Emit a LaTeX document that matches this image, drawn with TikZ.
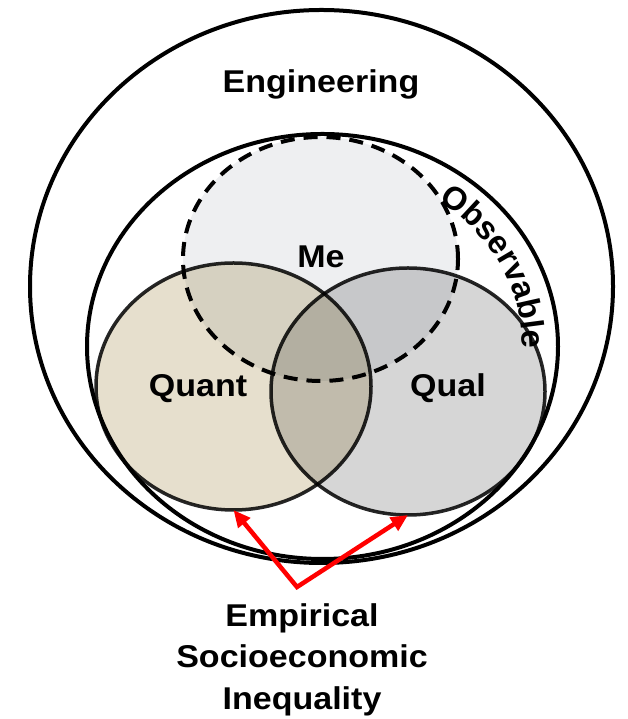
\documentclass[tikz,border=0pt]{standalone}
\usepackage{fontspec}
\setmainfont{Liberation Sans}
\usetikzlibrary{shapes.geometric, arrows.meta, decorations.text}
\definecolor{quantfill}{HTML}{E6DFCD}
\definecolor{qualfill}{HTML}{D6D6D6}
\definecolor{mefill}{HTML}{EEEFF1}
\definecolor{setline}{HTML}{262626}
\newcommand\wlab[1]{\scalebox{1.08}[1]{#1}}
\newcommand\lblfont{\fontsize{31.5}{41.5}\selectfont\bfseries}
\newcommand\obsfont{\fontsize{32.5}{36}\selectfont\bfseries}
\begin{document}
\begin{tikzpicture}[x=1pt,y=1pt,
  ring/.style={ellipse, draw, line width=4pt, inner sep=0pt, outer sep=0pt},
  setring/.style={ellipse, draw=setline, line width=3.5pt, inner sep=0pt, outer sep=0pt, blend mode=multiply},
  dashring/.style={ellipse, draw, fill=mefill, line width=4pt, dash pattern=on 14pt off 9pt, inner sep=0pt, outer sep=0pt, blend mode=multiply},
  lab/.style={font=\lblfont, inner sep=0pt, anchor=base},
  redarr/.style={draw=red, line width=4.5pt, miter limit=10, {Triangle[length=17pt,width=15pt]}-{Triangle[length=17pt,width=15pt]}}]
\useasboundingbox (0,0) rectangle (628,719);
\node[ring, minimum width=583pt, minimum height=553pt] (eng) at (321.5,432.5) {};
\node[ring, minimum width=471pt, minimum height=425pt] (obs) at (322.5,372.5) {};
\node[dashring, minimum width=275pt, minimum height=244pt] (me) at (320.5,460) {};
\node[setring, fill=quantfill, minimum width=275pt, minimum height=247pt] (quant) at (233.5,332.5) {};
\node[setring, fill=qualfill, minimum width=274pt, minimum height=247pt] (qual) at (408,327.5) {};
\node[lab] (lEng) at (321,626) {\wlab{Engineering}};
\node[lab] (lMe) at (321,451) {\wlab{Me}};
\node[lab] (lQuant) at (198,322) {\wlab{Quant}};
\node[lab] (lQual) at (448,322) {\wlab{Qual}};
\node[font=\lblfont, align=center, inner sep=0pt, anchor=north] (lEmp) at (302,116) {\wlab{Empirical}\\ \wlab{Socioeconomic}\\ \wlab{Inequality}};
\path[decorate, decoration={text along path, text={|\obsfont|Observable}, text align=left}]
  (obs.center) ++(54.5:200pt and 179pt) arc[start angle=54.5, end angle=-40, x radius=200pt, y radius=179pt];
\coordinate (v) at (297,132);
\draw[redarr] (quant.south) -- (v) -- (qual.south);
\end{tikzpicture}
\end{document}
